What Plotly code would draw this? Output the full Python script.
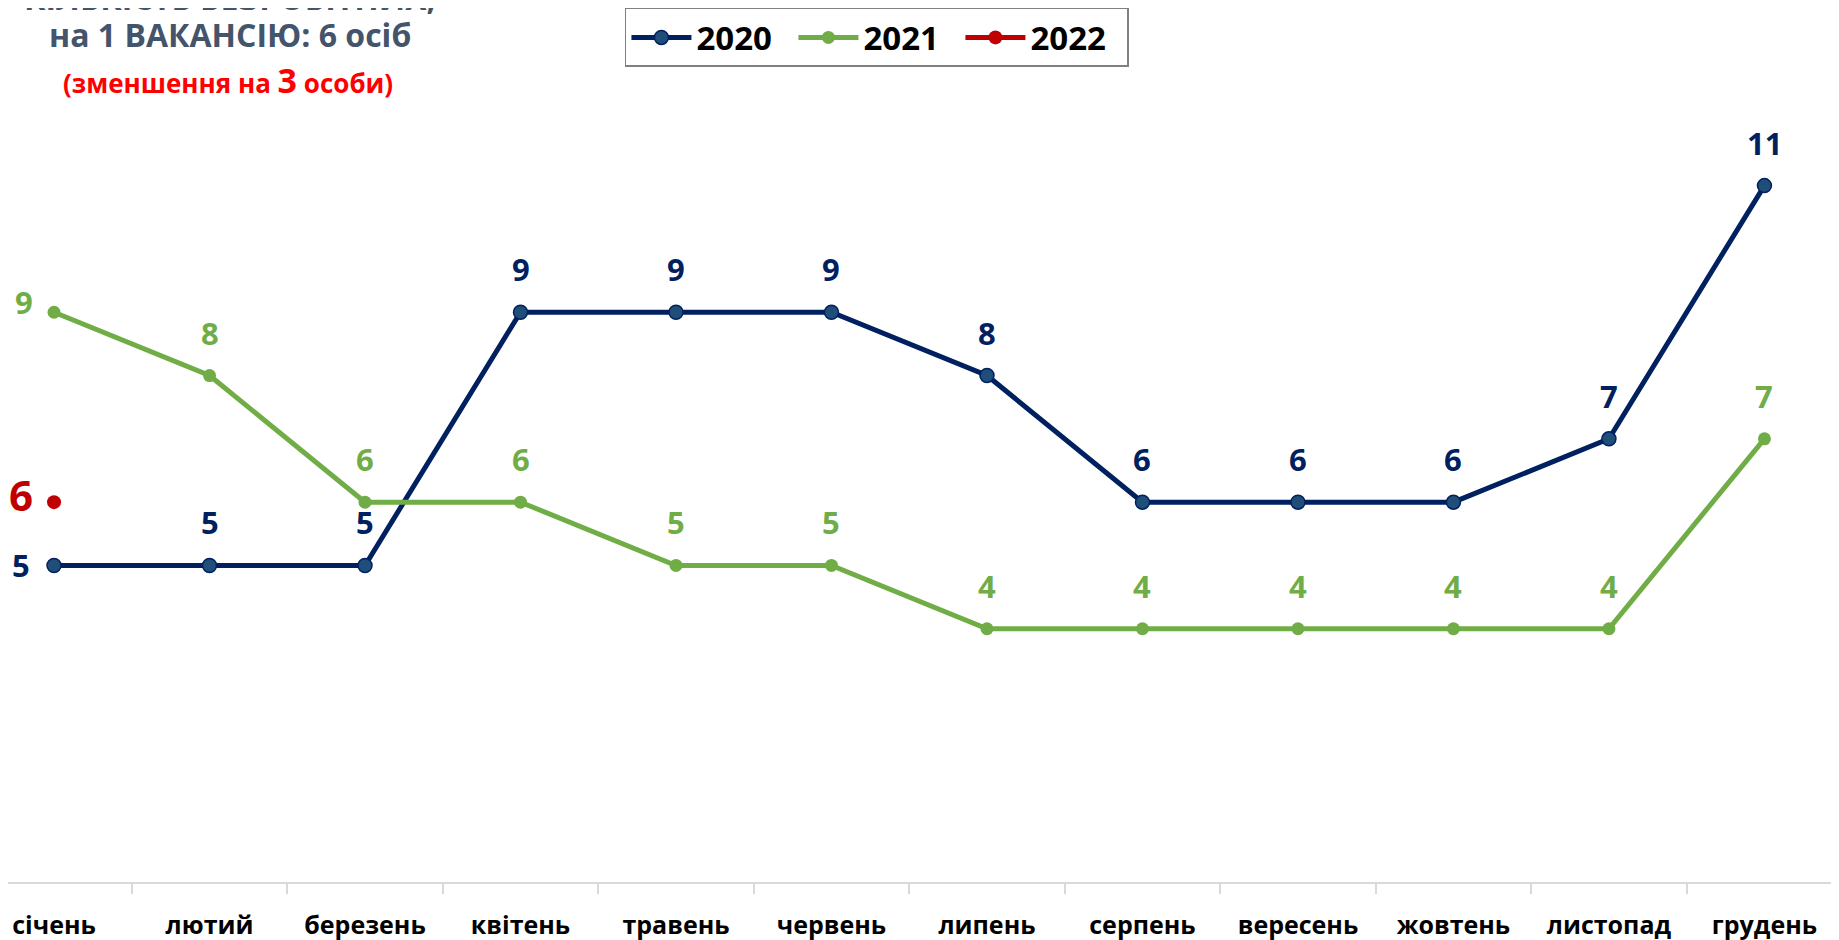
import plotly.graph_objects as go

months = ["січень", "лютий", "березень", "квітень", "травень", "червень",
          "липень", "серпень", "вересень", "жовтень", "листопад", "грудень"]
v2020 = [5, 5, 5, 9, 9, 9, 8, 6, 6, 6, 7, 11]
v2021 = [9, 8, 6, 6, 5, 5, 4, 4, 4, 4, 4, 7]
v2022 = [6]
months2022 = months[:1]

title_line1 = "КІЛЬКІСТЬ БЕЗРОБІТНИХ,"
title_line2 = "на 1 ВАКАНСІЮ: 6 осіб"
title_line3 = "(зменшення на <span style='font-size:34px'>3</span> особи)"

NAVY = "#002060"
NAVY_FILL = "#1F4E79"
GREEN = "#70AD47"
RED = "#C00000"
FONT = "Open Sans"

fig = go.Figure()
fig.add_trace(go.Scatter(
    x=months, y=v2020, name="2020", mode="lines+markers",
    line=dict(color=NAVY, width=5),
    marker=dict(size=14, color=NAVY_FILL, line=dict(color=NAVY, width=1.5)),
))
fig.add_trace(go.Scatter(
    x=months, y=v2021, name="2021", mode="lines+markers",
    line=dict(color=GREEN, width=5),
    marker=dict(size=13, color=GREEN),
))
fig.add_trace(go.Scatter(
    x=months2022, y=v2022, name="2022", mode="lines+markers",
    line=dict(color=RED, width=5),
    marker=dict(size=14, color=RED),
))

annotations = []
def add_labels(xs, ys, color, size, first_shift):
    for i, (m, v) in enumerate(zip(xs, ys)):
        if i == 0:
            xs_, ys_ = first_shift
        else:
            xs_, ys_ = 0, 43
        annotations.append(dict(
            x=m, y=v, xref="x", yref="y", text=str(v), showarrow=False,
            xshift=xs_, yshift=ys_,
            font=dict(family=FONT, size=size, color=color, weight="bold"),
        ))

add_labels(months, v2020, NAVY, 31, (-33, 0))
add_labels(months, v2021, GREEN, 31, (-30, 10))
add_labels(months2022, v2022, RED, 42, (-33, 8))

annotations += [
    dict(x=0.1207, y=1.075, xref="paper", yref="paper", text=title_line1,
         xanchor="center", yanchor="middle", showarrow=False,
         font=dict(family=FONT, size=32, color="#44546A", weight="bold")),
    dict(x=0.1207, y=1.0292, xref="paper", yref="paper", text=title_line2,
         xanchor="center", yanchor="middle", showarrow=False,
         font=dict(family=FONT, size=32, color="#44546A", weight="bold")),
    dict(x=0.1194, y=0.9745, xref="paper", yref="paper", text=title_line3,
         xanchor="center", yanchor="middle", showarrow=False,
         font=dict(family=FONT, size=26, color="#FF0000", weight="bold")),
]

fig.update_layout(
    width=1839, height=940,
    margin=dict(l=0, r=0, t=51, b=66, autoexpand=False),
    plot_bgcolor="white", paper_bgcolor="white",
    annotations=annotations,
    showlegend=True,
    legend=dict(
        orientation="h", x=0.4725, xanchor="center", y=1.062, yanchor="top",
        bordercolor="#808080", borderwidth=1.5, bgcolor="white",
        font=dict(family=FONT, size=33, color="black", weight="bold"),
        itemwidth=60,
        entrywidth=92, entrywidthmode="pixels",
    ),
    xaxis=dict(
        type="category", range=[-0.296, 11.531],
        showline=True, linecolor="#D9D9D9", linewidth=2,
        ticks="outside", ticklen=10, tickcolor="#D9D9D9", tickwidth=1.5,
        tickson="boundaries", showgrid=False, zeroline=False,
        tickfont=dict(family=FONT, size=25, color="black", weight="bold"),
        ticklabelstandoff=20,
    ),
    xaxis2=dict(
        overlaying="x", anchor="y", side="bottom",
        range=[-0.296, 11.531],
        tickvals=[i + 0.5 for i in range(len(months) - 1)],
        ticks="inside", ticklen=10, tickcolor="#D9D9D9", tickwidth=1.5,
        showticklabels=False, showgrid=False, zeroline=False, showline=False,
    ),
    yaxis=dict(range=[0, 13], visible=False, showgrid=False, zeroline=False),
)

fig.write_html("out.html")
